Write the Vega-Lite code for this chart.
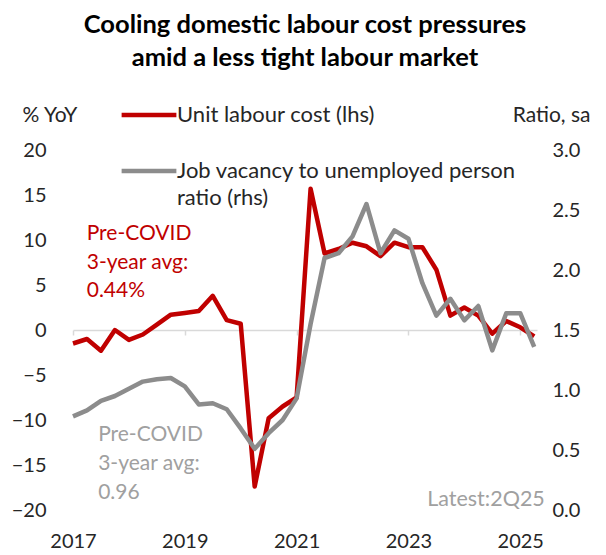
{
  "$schema": "https://vega.github.io/schema/vega-lite/v6.json",
  "width": 464,
  "height": 360,
  "autosize": {"type": "none"},
  "padding": {"left": 73, "top": 150, "right": 69, "bottom": 45},
  "background": "white",
  "config": {
    "font": "Lato",
    "view": {"stroke": null},
    "axis": {"labelFont": "Lato", "labelFontSize": 20, "labelColor": "#262626", "titleFont": "Lato", "titleFontSize": 21, "titleFontWeight": "normal", "titleColor": "#262626", "grid": false},
    "legend": {"labelFont": "Lato", "labelFontSize": 22, "labelColor": "#262626"}
  },
  "title": {
    "text": ["Cooling domestic labour cost pressures", "amid a less tight labour market"],
    "anchor": "middle",
    "fontSize": 25.5,
    "fontWeight": "bold",
    "color": "#000000",
    "lineHeight": 33,
    "offset": 14
  },
  "datasets": {
    "series": [
      {"quarter": "1Q17", "year": 2017.00, "ulc": -1.5, "ratio": 0.78},
      {"quarter": "2Q17", "year": 2017.25, "ulc": -1.0, "ratio": 0.83},
      {"quarter": "3Q17", "year": 2017.50, "ulc": -2.3, "ratio": 0.91},
      {"quarter": "4Q17", "year": 2017.75, "ulc": 0.0, "ratio": 0.95},
      {"quarter": "1Q18", "year": 2018.00, "ulc": -1.1, "ratio": 1.01},
      {"quarter": "2Q18", "year": 2018.25, "ulc": -0.5, "ratio": 1.07},
      {"quarter": "3Q18", "year": 2018.50, "ulc": 0.6, "ratio": 1.09},
      {"quarter": "4Q18", "year": 2018.75, "ulc": 1.7, "ratio": 1.10},
      {"quarter": "1Q19", "year": 2019.00, "ulc": 1.9, "ratio": 1.03},
      {"quarter": "2Q19", "year": 2019.25, "ulc": 2.1, "ratio": 0.88},
      {"quarter": "3Q19", "year": 2019.50, "ulc": 3.8, "ratio": 0.89},
      {"quarter": "4Q19", "year": 2019.75, "ulc": 1.1, "ratio": 0.84},
      {"quarter": "1Q20", "year": 2020.00, "ulc": 0.7, "ratio": 0.68},
      {"quarter": "2Q20", "year": 2020.25, "ulc": -17.4, "ratio": 0.51},
      {"quarter": "3Q20", "year": 2020.50, "ulc": -9.8, "ratio": 0.64},
      {"quarter": "4Q20", "year": 2020.75, "ulc": -8.5, "ratio": 0.75},
      {"quarter": "1Q21", "year": 2021.00, "ulc": -7.5, "ratio": 0.93},
      {"quarter": "2Q21", "year": 2021.25, "ulc": 15.7, "ratio": 1.55},
      {"quarter": "3Q21", "year": 2021.50, "ulc": 8.5, "ratio": 2.10},
      {"quarter": "4Q21", "year": 2021.75, "ulc": 9.0, "ratio": 2.14},
      {"quarter": "1Q22", "year": 2022.00, "ulc": 9.7, "ratio": 2.28},
      {"quarter": "2Q22", "year": 2022.25, "ulc": 9.3, "ratio": 2.55},
      {"quarter": "3Q22", "year": 2022.50, "ulc": 8.2, "ratio": 2.14},
      {"quarter": "4Q22", "year": 2022.75, "ulc": 9.7, "ratio": 2.33},
      {"quarter": "1Q23", "year": 2023.00, "ulc": 9.2, "ratio": 2.26},
      {"quarter": "2Q23", "year": 2023.25, "ulc": 9.2, "ratio": 1.89},
      {"quarter": "3Q23", "year": 2023.50, "ulc": 6.7, "ratio": 1.62},
      {"quarter": "4Q23", "year": 2023.75, "ulc": 1.6, "ratio": 1.76},
      {"quarter": "1Q24", "year": 2024.00, "ulc": 2.5, "ratio": 1.58},
      {"quarter": "2Q24", "year": 2024.25, "ulc": 1.6, "ratio": 1.70},
      {"quarter": "3Q24", "year": 2024.50, "ulc": -0.4, "ratio": 1.33},
      {"quarter": "4Q24", "year": 2024.75, "ulc": 1.0, "ratio": 1.64},
      {"quarter": "1Q25", "year": 2025.00, "ulc": 0.3, "ratio": 1.64},
      {"quarter": "2Q25", "year": 2025.25, "ulc": -0.7, "ratio": 1.36}
    ]
  },
  "layer": [
    {
      "data": {"name": "series"},
      "mark": {"type": "line", "strokeWidth": 4.5, "strokeJoin": "round", "strokeCap": "butt"},
      "encoding": {
        "x": {"field": "year", "type": "quantitative",
              "scale": {"domain": [2017, 2025.3], "nice": false, "zero": false},
              "axis": {"orient": "bottom", "values": [2017, 2019, 2021, 2023, 2025], "format": "d", "domain": false, "ticks": false, "tickSize": 0, "labelPadding": 21, "title": null, "labelFlush": false}},
        "y": {"field": "ulc", "type": "quantitative",
              "scale": {"domain": [-20, 20], "nice": false},
              "axis": {"orient": "left", "values": [-20, -15, -10, -5, 0, 5, 10, 15, 20], "domain": false, "ticks": false, "tickSize": 0, "labelPadding": 27, "title": "% YoY", "titleAngle": 0, "titleAlign": "left", "titleBaseline": "alphabetic", "titleX": -51, "titleY": -29}},
        "color": {"datum": "Unit labour cost (lhs)", "type": "nominal",
                  "scale": {"domain": ["Unit labour cost (lhs)", "Job vacancy to unemployed person ratio (rhs)"], "range": ["#c00000", "#8c8c8c"]},
                  "legend": {"orient": "none", "legendX": 46, "legendY": -65, "title": null, "symbolType": "stroke", "symbolSize": 3000, "symbolStrokeWidth": 4.5, "labelOffset": -2, "labelLimit": 500, "rowPadding": 15, "labelBaseline": "middle",
                             "labelExpr": "datum.label == 'Unit labour cost (lhs)' ? datum.label : ['Job vacancy to unemployed person', 'ratio (rhs)']",
                             "encoding": {"labels": {"lineHeight": {"value": 27}}}}}
      }
    },
    {
      "data": {"name": "series"},
      "mark": {"type": "line", "strokeWidth": 4.5, "strokeJoin": "round", "strokeCap": "butt"},
      "encoding": {
        "x": {"field": "year", "type": "quantitative",
              "axis": {"orient": "bottom", "offset": -180, "values": [2017, 2019, 2021, 2023, 2025], "labels": false, "domainColor": "#d9d9d9", "domainWidth": 1.5, "tickColor": "#d9d9d9", "tickWidth": 1.5, "tickSize": 5, "title": null}},
        "y": {"field": "ratio", "type": "quantitative",
              "scale": {"domain": [0, 3], "nice": false, "zero": false},
              "axis": {"orient": "right", "values": [0, 0.5, 1, 1.5, 2, 2.5, 3], "format": ".1f", "domain": false, "ticks": false, "tickSize": 0, "labelPadding": 15, "title": "Ratio, sa", "titleAngle": 0, "titleAlign": "right", "titleBaseline": "alphabetic", "titleX": 53, "titleY": -29}},
        "color": {"datum": "Job vacancy to unemployed person ratio (rhs)", "type": "nominal"}
      }
    },
    {
      "data": {"values": [{"year": 2017.245, "ulc": 10.0, "note": "Pre-COVID\n3-year avg:\n0.44%"}]},
      "mark": {"type": "text", "align": "left", "baseline": "alphabetic", "fontSize": 21, "lineHeight": 28.5, "lineBreak": "\n", "color": "#c00000"},
      "encoding": {
        "x": {"field": "year", "type": "quantitative", "axis": null},
        "y": {"field": "ulc", "type": "quantitative", "scale": {"domain": [-20, 20], "nice": false}, "axis": null},
        "text": {"field": "note"}
      }
    },
    {
      "data": {"values": [{"year": 2017.45, "ulc": -12.33, "note": "Pre-COVID\n3-year avg:\n0.96"}]},
      "mark": {"type": "text", "align": "left", "baseline": "alphabetic", "fontSize": 21, "lineHeight": 29, "lineBreak": "\n", "color": "#a0a0a0"},
      "encoding": {
        "x": {"field": "year", "type": "quantitative", "axis": null},
        "y": {"field": "ulc", "type": "quantitative", "scale": {"domain": [-20, 20], "nice": false}, "axis": null},
        "text": {"field": "note"}
      }
    },
    {
      "data": {"values": [{"year": 2025.44, "ulc": -19.56, "note": "Latest:2Q25"}]},
      "mark": {"type": "text", "align": "right", "baseline": "alphabetic", "fontSize": 21.5, "color": "#a0a0a0"},
      "encoding": {
        "x": {"field": "year", "type": "quantitative", "axis": null},
        "y": {"field": "ulc", "type": "quantitative", "scale": {"domain": [-20, 20], "nice": false}, "axis": null},
        "text": {"field": "note"}
      }
    }
  ],
  "resolve": {"scale": {"y": "independent"}, "axis": {"x": "independent", "y": "independent"}}
}
